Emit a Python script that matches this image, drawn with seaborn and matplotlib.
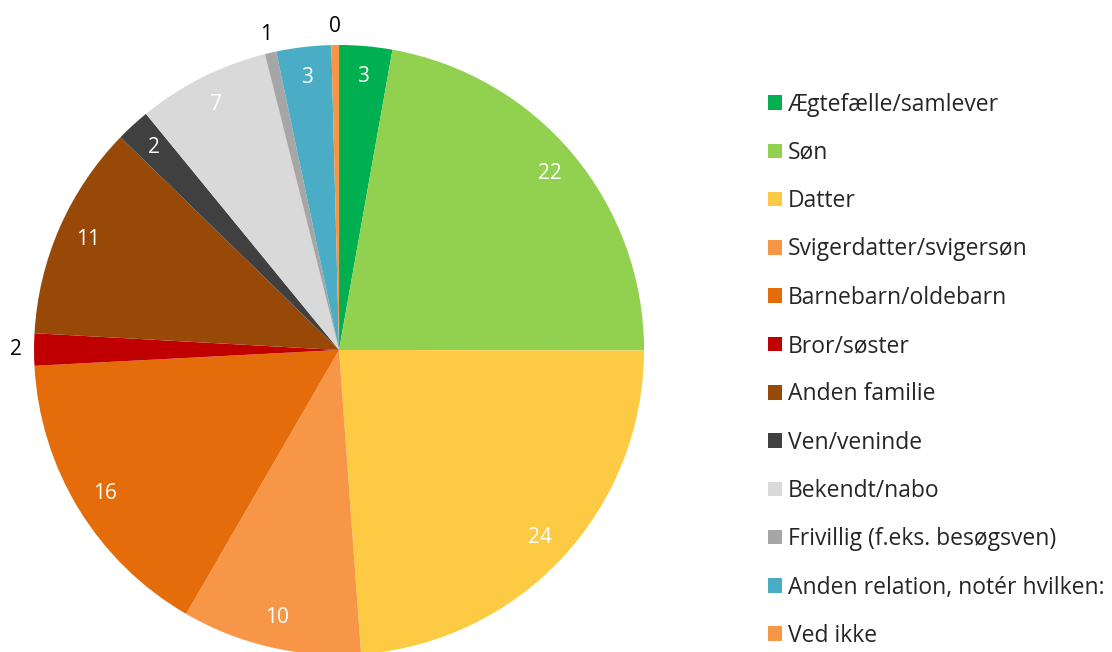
import matplotlib
matplotlib.use("Agg")
import matplotlib.pyplot as plt
import seaborn as sns
import numpy as np
from matplotlib.patches import Patch

# slice shares (percent), labels shown rounded
categories = [
    "Ægtefælle/samlever", "Søn", "Datter", "Svigerdatter/svigersøn",
    "Barnebarn/oldebarn", "Bror/søster", "Anden familie", "Ven/veninde",
    "Bekendt/nabo", "Frivillig (f.eks. besøgsven)",
    "Anden relation, notér hvilken:", "Ved ikke",
]
shares = [2.8, 22.2, 23.8, 9.5, 15.8, 1.7, 11.4, 1.8, 7.0, 0.6, 2.9, 0.4]
colors = [
    "#00B050", "#92D050", "#FDCB43", "#F79646", "#E46C0A", "#C00000",
    "#984807", "#404040", "#D9D9D9", "#A6A6A6", "#4BACC6", "#F79646",
]

sns.set_theme(style="white")
plt.rcParams["font.family"] = ["Open Sans", "DejaVu Sans"]

fig = plt.figure(figsize=(11.12, 6.52), dpi=100)
ax = fig.add_axes([0.0306, -0.0046, 0.5486, 0.9356])

wedges, _ = ax.pie(shares, colors=colors, startangle=90, counterclock=False,
                   radius=1.0, wedgeprops=dict(linewidth=0))
ax.set_xlim(-1, 1)
ax.set_ylim(-1, 1)
ax.set_aspect("equal")
ax.axis("off")

# data labels: white inside for larger slices, black outside for tiny ones
outside = {5, 9, 11}
for i, (w, v) in enumerate(zip(wedges, shares)):
    ang = np.deg2rad((w.theta1 + w.theta2) / 2)
    if i in outside:
        r, col = 1.06, "black"
    else:
        r, col = 0.9, "white"
    ax.text(r * np.cos(ang), r * np.sin(ang), f"{round(v):d}",
            ha="center", va="center", color=col, fontsize=15, clip_on=False)

handles = [Patch(facecolor=c, edgecolor="none") for c in colors]
fig.legend(handles, categories, loc="upper left", bbox_to_anchor=(0.6825, 0.872),
           frameon=False, fontsize=16.5, handlelength=0.6, handleheight=0.6,
           handletextpad=0.25, labelspacing=1.06, borderaxespad=0)

fig.savefig("out.png", dpi=100)
